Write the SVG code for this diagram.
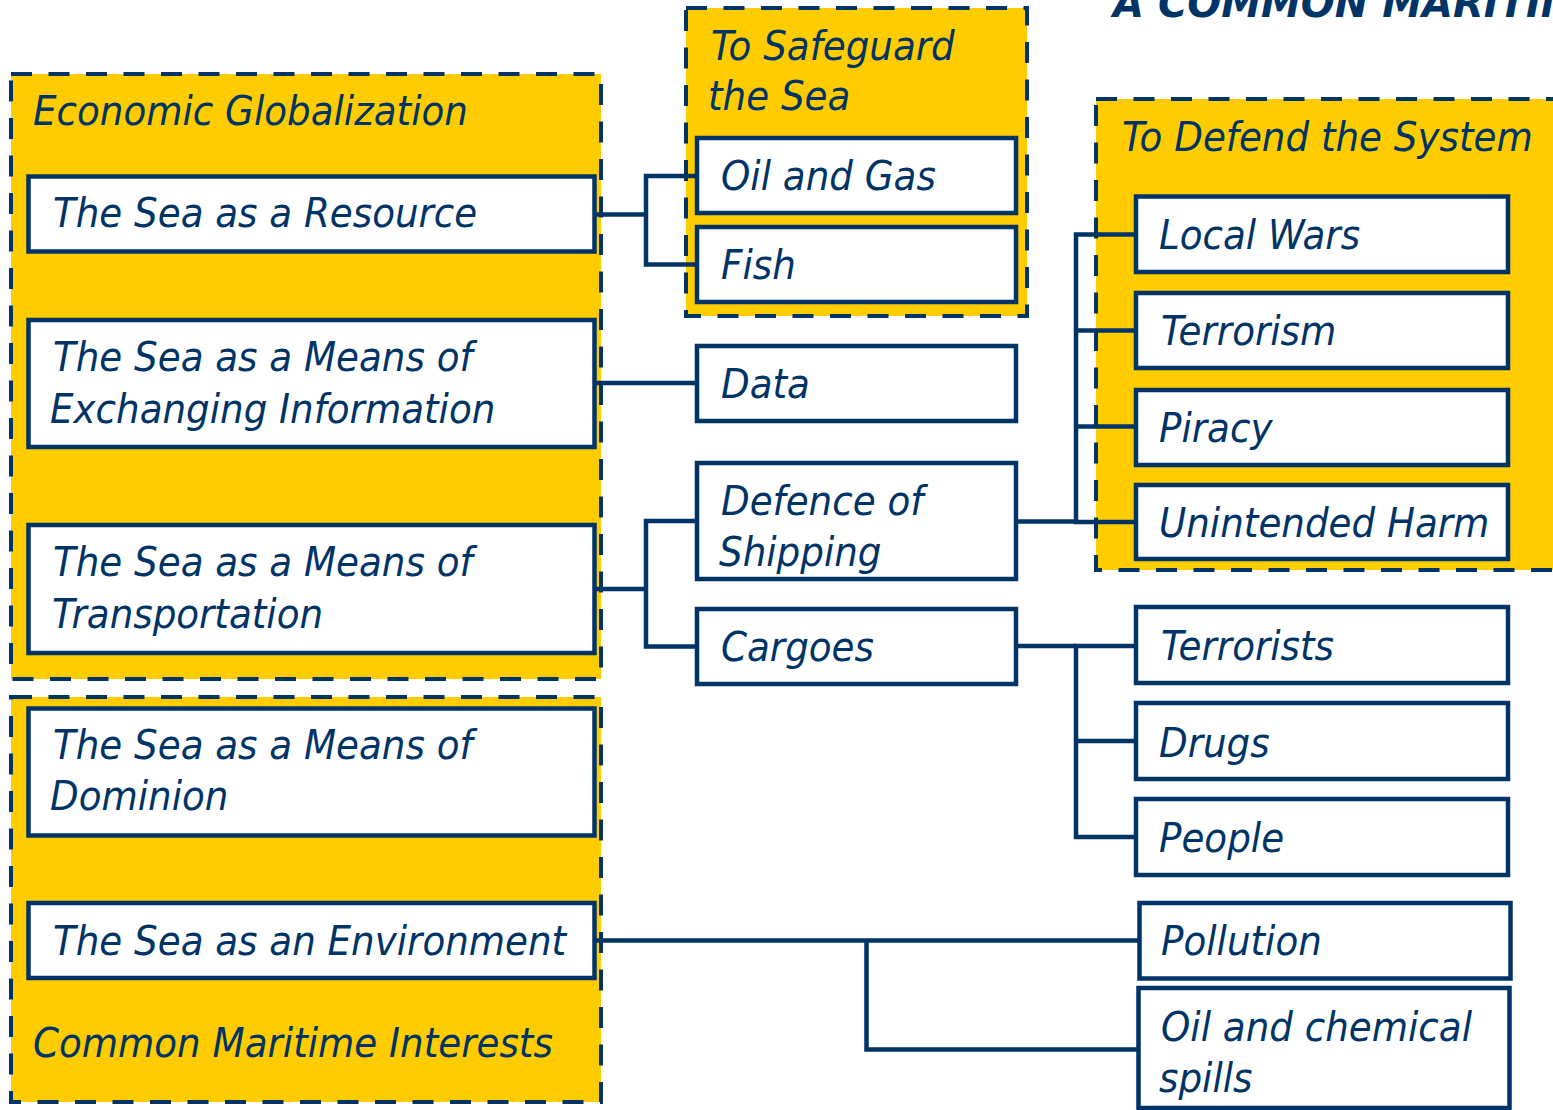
<svg xmlns="http://www.w3.org/2000/svg" width="1553" height="1110" viewBox="0 0 1553 1110">
<style>
.grp{fill:#FFCC00;stroke:#003366;stroke-width:4;stroke-dasharray:21 16.5}
.box{fill:#FFFFFF;stroke:#003366;stroke-width:4.5}
.t{font-family:"DejaVu Sans Condensed","DejaVu Sans",sans-serif;font-stretch:condensed;font-style:italic;font-size:41.4px;fill:#003366}
.title{font-family:"DejaVu Sans",sans-serif;font-style:italic;font-weight:bold;font-size:40px;fill:#003366}
.c{fill:none;stroke:#003366;stroke-width:4.5}
</style>
<rect width="1553" height="1110" fill="#FFFFFF"/>
<text class="title" x="1113" y="17">A COMMON MARITIME</text>

<g id="economic-globalization">
<rect class="grp" x="11" y="74" width="590" height="605"/>
<text class="t" x="33" y="125">Economic Globalization</text>
</g>
<g id="common-maritime-interests">
<rect class="grp" x="11" y="697" width="590" height="405"/>
<text class="t" x="33" y="1057">Common Maritime Interests</text>
</g>
<g id="to-safeguard-the-sea">
<rect class="grp" x="686" y="8" width="341" height="308"/>
<text class="t" x="711" y="60">To Safeguard</text>
<text class="t" x="708" y="110">the Sea</text>
</g>
<g id="to-defend-the-system">
<rect class="grp" x="1096" y="99" width="480" height="471"/>
<text class="t" x="1122" y="151">To Defend the System</text>
</g>

<g id="connectors">
<polyline class="c" points="596,214.5 646,214.5"/>
<polyline class="c" points="697,176 646,176 646,264.5 697,264.5"/>
<polyline class="c" points="596,383 697,383"/>
<polyline class="c" points="596,589 646,589"/>
<polyline class="c" points="697,521 646,521 646,646.5 697,646.5"/>
<polyline class="c" points="1016,521.5 1076,521.5"/>
<polyline class="c" points="1136,234.5 1076,234.5 1076,522 1136,522"/>
<polyline class="c" points="1076,330.5 1136,330.5"/>
<polyline class="c" points="1076,426.5 1136,426.5"/>
<polyline class="c" points="1016,646 1076,646"/>
<polyline class="c" points="1136,646 1076,646 1076,837 1136,837"/>
<polyline class="c" points="1076,741 1136,741"/>
<polyline class="c" points="596,940.5 1139,940.5"/>
<polyline class="c" points="866.5,940.5 866.5,1049.5 1138,1049.5"/>
</g>

<g id="sea-resource">
<rect class="box" x="28.5" y="176.5" width="566" height="75"/>
<text class="t" x="53" y="227">The Sea as a Resource</text>
</g>
<g id="sea-information">
<rect class="box" x="28.5" y="320" width="566" height="127"/>
<text class="t" x="53" y="371">The Sea as a Means of</text>
<text class="t" x="50" y="423">Exchanging Information</text>
</g>
<g id="sea-transportation">
<rect class="box" x="28.5" y="525" width="566" height="128"/>
<text class="t" x="53" y="576">The Sea as a Means of</text>
<text class="t" x="52" y="628">Transportation</text>
</g>
<g id="sea-dominion">
<rect class="box" x="28.5" y="708.5" width="566" height="127"/>
<text class="t" x="53" y="759">The Sea as a Means of</text>
<text class="t" x="50" y="810">Dominion</text>
</g>
<g id="sea-environment">
<rect class="box" x="28.5" y="903" width="566" height="75"/>
<text class="t" x="53" y="955">The Sea as an Environment</text>
</g>

<g id="oil-gas">
<rect class="box" x="697" y="138" width="319" height="75"/>
<text class="t" x="721" y="190">Oil and Gas</text>
</g>
<g id="fish">
<rect class="box" x="697" y="227" width="319" height="75"/>
<text class="t" x="721" y="279">Fish</text>
</g>
<g id="data">
<rect class="box" x="697" y="346" width="319" height="75"/>
<text class="t" x="721" y="398">Data</text>
</g>
<g id="defence-shipping">
<rect class="box" x="697" y="463" width="319" height="116"/>
<text class="t" x="721" y="515">Defence of</text>
<text class="t" x="719" y="566">Shipping</text>
</g>
<g id="cargoes">
<rect class="box" x="697" y="609" width="319" height="75"/>
<text class="t" x="721" y="661">Cargoes</text>
</g>

<g id="local-wars">
<rect class="box" x="1136" y="196.5" width="372" height="75.5"/>
<text class="t" x="1159" y="249">Local Wars</text>
</g>
<g id="terrorism">
<rect class="box" x="1136" y="293" width="372" height="75"/>
<text class="t" x="1161" y="345">Terrorism</text>
</g>
<g id="piracy">
<rect class="box" x="1136" y="390" width="372" height="75"/>
<text class="t" x="1159" y="442">Piracy</text>
</g>
<g id="unintended-harm">
<rect class="box" x="1136" y="485" width="372" height="74"/>
<text class="t" x="1159" y="537">Unintended Harm</text>
</g>
<g id="terrorists">
<rect class="box" x="1136" y="607" width="372" height="76"/>
<text class="t" x="1161" y="660">Terrorists</text>
</g>
<g id="drugs">
<rect class="box" x="1136" y="703" width="372" height="76"/>
<text class="t" x="1159" y="757">Drugs</text>
</g>
<g id="people">
<rect class="box" x="1136" y="799" width="372" height="76"/>
<text class="t" x="1159" y="852">People</text>
</g>
<g id="pollution">
<rect class="box" x="1139.5" y="903" width="371" height="75.5"/>
<text class="t" x="1161" y="955">Pollution</text>
</g>
<g id="oil-chemical-spills">
<rect class="box" x="1138.5" y="988" width="371" height="120"/>
<text class="t" x="1161" y="1041">Oil and chemical</text>
<text class="t" x="1159" y="1092">spills</text>
</g>
</svg>
